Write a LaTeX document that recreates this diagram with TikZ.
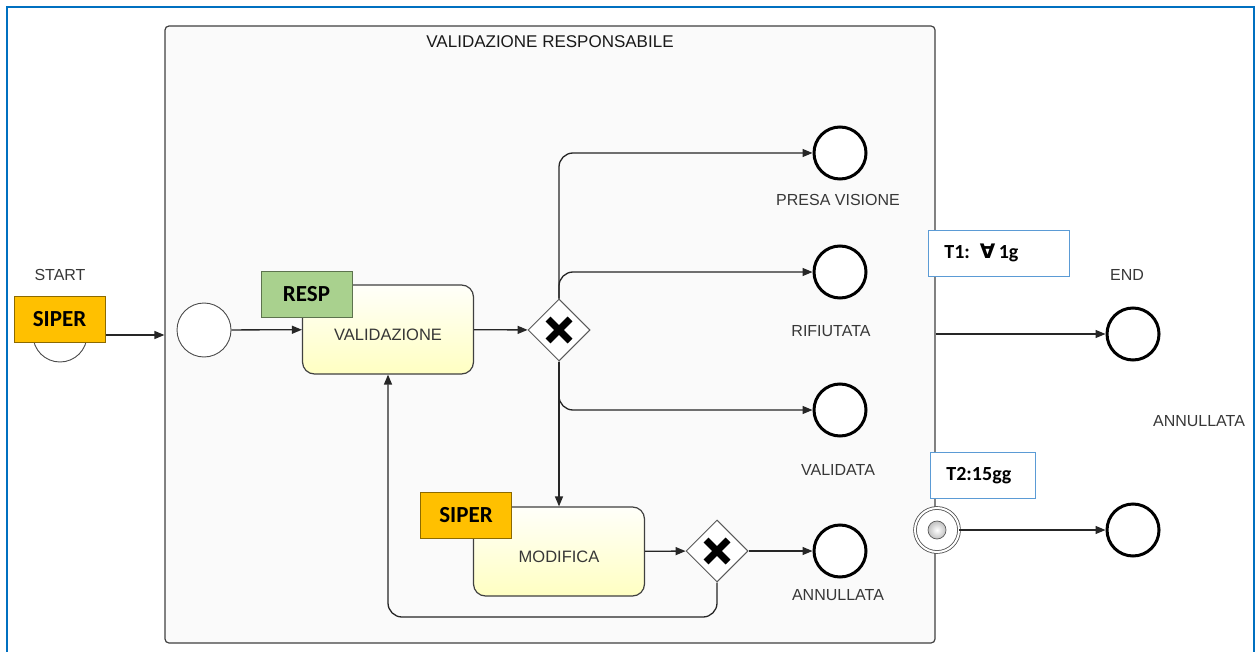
\documentclass[tikz,border=0pt]{standalone}
\usepackage{fontspec}
\setmainfont{Liberation Sans}
\newfontfamily\calibfont{Carlito}
\newfontfamily\symbfont{DejaVu Sans}
\usetikzlibrary{positioning,arrows.meta,shapes.geometric,calc}
\definecolor{frameblue}{RGB}{0,112,192}
\definecolor{siperorange}{RGB}{255,192,0}
\definecolor{respgreen}{RGB}{169,209,142}
\definecolor{tagblue}{RGB}{91,155,213}
\definecolor{labelgray}{RGB}{55,55,55}

\begin{document}
\begin{tikzpicture}[
    x=1pt, y=-1pt,
    font=\fontsize{16}{18}\selectfont,
    % ---- styles -------------------------------------------------
    pool/.style={
        draw=black!75, line width=1.2pt, fill=black!2, rounded corners=4pt,
        minimum width=770pt, minimum height=617pt},
    task/.style={
        draw=black!75, line width=1.2pt, rounded corners=12pt,
        top color=yellow!2, bottom color=yellow!24,
        minimum width=171pt, minimum height=89pt, text=labelgray,
        text height=22pt, text depth=0pt,
        font=\fontsize{16.5}{18}\selectfont},
    role/.style={
        draw=#1!55!black, fill=#1, line width=0.6pt,
        minimum width=91pt, minimum height=46pt,
        font=\calibfont\bfseries\fontsize{23}{25}\selectfont},
    startev/.style={circle, draw=black!70, line width=0.9pt, fill=white,
        minimum size=54pt, inner sep=0pt},
    endev/.style={circle, draw=black, line width=3pt, fill=white,
        minimum size=52pt, inner sep=0pt},
    gateway/.style={
        diamond, draw=black!65, line width=1pt, fill=white,
        minimum size=62pt, inner sep=0pt,
        path picture={
            \draw[black, line width=7pt]
                ([shift={(-11pt,-11pt)}]path picture bounding box.center) --
                ([shift={(11pt,11pt)}]path picture bounding box.center);
            \draw[black, line width=7pt]
                ([shift={(-11pt,11pt)}]path picture bounding box.center) --
                ([shift={(11pt,-11pt)}]path picture bounding box.center);}},
    timer/.style={
        circle, draw=black!70, line width=0.8pt, double, double distance=2pt,
        fill=white, minimum size=44pt, inner sep=0pt,
        path picture={
            \shade[inner color=white, outer color=black!60]
                (path picture bounding box.center) circle (9pt);
            \draw[black!65, line width=0.7pt]
                (path picture bounding box.center) circle (9pt);}},
    tag/.style={
        draw=tagblue, fill=white, line width=0.8pt, anchor=north west,
        minimum height=46pt, inner xsep=16pt, align=left,
        font=\calibfont\bfseries\fontsize{20}{22}\selectfont},
    lbl/.style={text=labelgray, font=\fontsize{16}{18}\selectfont},
    flow/.style={-{Triangle[length=10pt,width=8pt]}, line width=1.3pt, draw=black!85},
]
\useasboundingbox (0,0) rectangle (1257,652);
\draw[frameblue, line width=2.5pt] (7,7) rectangle (1254,680);

% =================== POOL ====================================
\node[pool] (pool) at (550,334.5) {};
\node[font=\fontsize{17}{19}\selectfont, text=black!90] (pooltitle) at (550,42)
    {VALIDAZIONE RESPONSABILE};

% =================== START (outside) =========================
\node[lbl] (startlbl) at (60,275) {START};
\node[startev] (start) at (60,335) {};
\draw[flow] (start) -- (start -| pool.west);
\node[role=siperorange] (siper1) at (59.5,319) {SIPER};

% =================== inside the pool =========================
\node[startev] (poolstart) at (204,330) {};
\node[task] (valid) at (388,329.5) {VALIDAZIONE};
\node[gateway] (gw1) at (559,330) {};
\node[endev] (presa)    at (840,153) {};
\node[endev] (rifiut)   at (840,272) {};
\node[endev] (validata) at (840,410) {};
\node[task] (modif) at (559,551.5) {MODIFICA};
\node[gateway] (gw2) at (717,551) {};
\node[endev] (annull) at (840,551) {};

\node[lbl] at (838,200) {PRESA VISIONE};
\node[lbl] at (831,331) {RIFIUTATA};
\node[lbl] at (838,470) {VALIDATA};
\node[lbl] at (838,595) {ANNULLATA};

\draw[flow] (poolstart) -- (valid);
\draw[flow] (valid) -- (gw1);
\draw[flow, rounded corners=14pt] (gw1.north) |- (presa);
\draw[flow, rounded corners=14pt] (gw1.north) |- (rifiut);
\draw[flow, rounded corners=14pt] (gw1.south) |- (validata);
\draw[flow] (gw1.south) -- (gw1.south |- modif.north);
\draw[flow] (modif) -- (gw2);
\draw[flow] (gw2) -- (annull);
\coordinate (loopbase) at (0,617);
\draw[flow, rounded corners=14pt] (gw2.south) -- (gw2.south |- loopbase) -| (valid.south);

\node[role=respgreen]   (resp)   at (306.5,294) {RESP};
\node[role=siperorange] (siper2) at (466,515) {SIPER};

% =================== END side (outside) ======================
\node[lbl] (endlbl) at (1127,275) {END};
\node[endev] (endok) at (1133,334) {};
\draw[flow] (pool.east |- endok) -- (endok);
\node[tag, text width=109pt] (t1) at (928,230) {T1: {\symbfont ∀}\,1g};

\node[lbl] (annlbl) at (1199,421) {ANNULLATA};
\node[timer] (timer) at (937,530) {};
\node[endev] (endko) at (1133,530) {};
\draw[flow] (timer) -- (endko);
\node[tag, text width=73pt] (t2) at (930,452) {T2:15gg};

\end{tikzpicture}
\end{document}
